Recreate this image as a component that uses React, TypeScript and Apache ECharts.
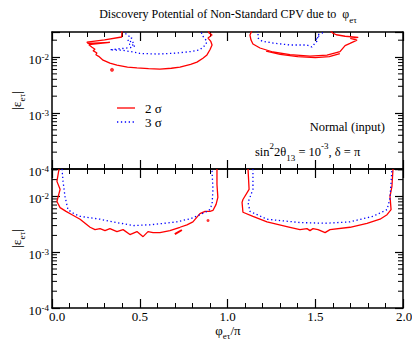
import React, { useEffect, useRef } from "react";
import * as echarts from "echarts";

const FONT = "'Liberation Serif', 'DejaVu Serif', 'Times New Roman', serif";
const RED = "#ff0000";
const BLUE = "#0000ff";

// axis ranges
const X_RANGE = [0, 2];
const X_LABELS = ["0.0", "0.5", "1.0", "1.5", "2.0"];
const Y_MIN = 1e-4;
const Y_MAX_TOP = 0.028;
const Y_MAX_BOTTOM = 0.031;
const MINOR_MULT = [2, 3, 4, 5, 6, 7, 8, 9];
const DECADES = [1e-4, 1e-3, 1e-2];

// ---- Upper panel contours [phi/pi, |eps_etau|] ----
const UPPER_LEFT_2S = [
  [0.399, 0.03], [0.397, 0.0228], [0.3, 0.0203], [0.199, 0.0185], [0.205, 0.0175],
  [0.33, 0.0183], [0.21, 0.0166], [0.228, 0.015], [0.245, 0.0138], [0.234, 0.013],
  [0.256, 0.0118], [0.25, 0.011], [0.266, 0.0103], [0.291, 0.0088], [0.33, 0.0078],
  [0.37, 0.0072], [0.43, 0.0066], [0.484, 0.0064], [0.55, 0.0062], [0.615, 0.0061],
  [0.68, 0.0063], [0.729, 0.0066], [0.79, 0.0074], [0.826, 0.0081], [0.86, 0.0095],
  [0.883, 0.0109], [0.9, 0.0135], [0.912, 0.0164], [0.905, 0.019], [0.889, 0.0218],
  [0.912, 0.0247], [0.895, 0.027], [0.889, 0.03],
];
const UPPER_LEFT_3S = [
  [0.405, 0.03], [0.425, 0.025], [0.455, 0.022], [0.43, 0.0195], [0.465, 0.0185],
  [0.44, 0.0168], [0.475, 0.016], [0.45, 0.0148], [0.4, 0.0142], [0.33, 0.0135],
  [0.4, 0.0132], [0.47, 0.0122], [0.5, 0.0116], [0.6, 0.0113], [0.7, 0.0117],
  [0.8, 0.0126], [0.843, 0.0135], [0.875, 0.0165], [0.883, 0.019], [0.86, 0.0235],
  [0.845, 0.03],
];
const UPPER_RIGHT_2S = [
  [1.14, 0.03], [1.128, 0.0247], [1.134, 0.0201], [1.145, 0.0171], [1.185, 0.0145],
  [1.259, 0.0123], [1.356, 0.011], [1.47, 0.0104], [1.567, 0.0108], [1.641, 0.0125],
  [1.67, 0.016], [1.698, 0.0175], [1.738, 0.02], [1.7, 0.0215], [1.745, 0.0225],
  [1.67, 0.0235], [1.62, 0.025], [1.6, 0.0268], [1.584, 0.03],
];
const UPPER_RIGHT_2S_B = [
  [1.22, 0.0128], [1.3, 0.0112], [1.4, 0.0102], [1.5, 0.0098], [1.58, 0.0102], [1.64, 0.0115],
];
const UPPER_RIGHT_3S = [
  [1.168, 0.03], [1.174, 0.0268], [1.174, 0.0218], [1.197, 0.0192], [1.259, 0.0178],
  [1.356, 0.0164], [1.453, 0.0164], [1.481, 0.0151], [1.499, 0.0178], [1.516, 0.0201],
  [1.5, 0.0215], [1.527, 0.0228], [1.51, 0.0247], [1.54, 0.0268], [1.556, 0.03],
];
const UPPER_DOTS_2S = [[0.342, 0.0059]];

// ---- Lower panel contours ----
const LOWER_LEFT_2S = [
  [0.04, 0.031], [0.028, 0.0186], [0.046, 0.0134], [0.028, 0.0081], [0.046, 0.0063],
  [0.08, 0.0054], [0.114, 0.0047], [0.16, 0.0039], [0.217, 0.0028], [0.245, 0.00254],
  [0.274, 0.00265], [0.302, 0.00244], [0.33, 0.00265], [0.37, 0.00234], [0.405, 0.00254],
  [0.444, 0.00207], [0.484, 0.00234], [0.519, 0.0019], [0.547, 0.00234], [0.576, 0.00224],
  [0.615, 0.00224], [0.672, 0.00244], [0.729, 0.0028], [0.769, 0.0031], [0.803, 0.0035],
  [0.843, 0.0049], [0.872, 0.0054], [0.9, 0.0054], [0.917, 0.0056], [0.935, 0.0072],
  [0.945, 0.0096], [0.94, 0.0164], [0.94, 0.031],
];
const LOWER_LEFT_3S = [
  [0.057, 0.031], [0.063, 0.0186], [0.074, 0.01], [0.091, 0.0058], [0.125, 0.0049],
  [0.16, 0.0044], [0.274, 0.0039], [0.37, 0.0034], [0.462, 0.003], [0.558, 0.0031],
  [0.64, 0.0033], [0.712, 0.0035], [0.79, 0.004], [0.843, 0.0047], [0.895, 0.0056],
  [0.912, 0.0072], [0.917, 0.0134], [0.912, 0.0282], [0.906, 0.031],
];
const LOWER_STROKE_2S = [[0.7, 0.0021], [0.74, 0.0025]];
const LOWER_DOTS_2S = [[0.889, 0.0037]];
const LOWER_RIGHT_2S = [
  [1.117, 0.031], [1.123, 0.0134], [1.088, 0.0088], [1.083, 0.0078], [1.088, 0.0052],
  [1.145, 0.0044], [1.225, 0.0035], [1.356, 0.0028], [1.413, 0.00254], [1.453, 0.00265],
  [1.47, 0.00244], [1.487, 0.00265], [1.516, 0.00254], [1.556, 0.00224], [1.584, 0.00254],
  [1.698, 0.0028], [1.795, 0.0033], [1.869, 0.0039], [1.909, 0.0047], [1.932, 0.0058],
  [1.926, 0.01], [1.937, 0.0151], [1.943, 0.031],
];
const LOWER_RIGHT_3S = [
  [1.145, 0.031], [1.145, 0.0134], [1.117, 0.0078], [1.128, 0.0054], [1.225, 0.0039],
  [1.413, 0.0034], [1.556, 0.0033], [1.698, 0.0035], [1.829, 0.0044], [1.909, 0.0058],
  [1.925, 0.009], [1.932, 0.0177], [1.937, 0.031],
];

const LEGEND_LABELS = ["2 σ", "3 σ"];

const DOT_DASH = [1.3, 2.6];

function contour(data: number[][], grid: number, color: string, dotted: boolean) {
  return {
    type: "line",
    xAxisIndex: grid * 2,
    yAxisIndex: grid * 2,
    data,
    symbol: "none",
    showSymbol: false,
    silent: true,
    clip: true,
    lineStyle: { color, width: 1.3, type: dotted ? DOT_DASH : "solid" },
  };
}

function dots(data: number[][], grid: number, size: number) {
  return {
    type: "scatter",
    xAxisIndex: grid * 2,
    yAxisIndex: grid * 2,
    data,
    symbol: "circle",
    symbolSize: size,
    silent: true,
    itemStyle: { color: RED },
  };
}

function minorTicks(grid: number, max: number) {
  const vals: number[][] = [];
  DECADES.forEach((d) => MINOR_MULT.forEach((m) => {
    const v = d * m;
    if (v < max) vals.push([1, v]);
  }));
  return {
    type: "custom",
    xAxisIndex: grid * 2,
    yAxisIndex: grid * 2,
    data: vals,
    silent: true,
    renderItem: (_p: any, api: any) => {
      const v = api.value(1);
      const a = api.coord([X_RANGE[0], v]);
      const b = api.coord([X_RANGE[1], v]);
      return {
        type: "group",
        children: [
          { type: "line", shape: { x1: a[0], y1: a[1], x2: a[0] + 5, y2: a[1] }, style: { stroke: "#000", lineWidth: 1 } },
          { type: "line", shape: { x1: b[0] - 5, y1: b[1], x2: b[0], y2: b[1] }, style: { stroke: "#000", lineWidth: 1 } },
        ],
      };
    },
  };
}

const AXIS_LINE = { show: true, onZero: false, lineStyle: { color: "#000", width: 1.5 } };

function xAxis(gridIndex: number, position: string, showLabels: boolean) {
  return {
    type: "value",
    gridIndex,
    position,
    min: X_RANGE[0],
    max: X_RANGE[1],
    interval: 0.5,
    axisLine: AXIS_LINE,
    axisTick: { show: true, inside: true, length: 9, lineStyle: { color: "#000", width: 1.2 } },
    minorTick: { show: true, splitNumber: 5, length: 5, lineStyle: { color: "#000", width: 1 } },
    splitLine: { show: false },
    minorSplitLine: { show: false },
    axisLabel: {
      show: showLabels,
      margin: 2,
      showMinLabel: true,
      showMaxLabel: true,
      formatter: (v: number) => {
        const idx = Math.round(v / 0.5);
        const t = X_LABELS[idx] ?? "";
        if (idx === 0) return `{e|${t}}`;
        if (idx === X_LABELS.length - 1) return `{f|${t}}`;
        return `{n|${t}}`;
      },
      rich: {
        n: { fontFamily: FONT, fontSize: 13, color: "#000" },
        e: { fontFamily: FONT, fontSize: 13, color: "#000", padding: [0, 0, 0, 10] },
        f: { fontFamily: FONT, fontSize: 13, color: "#000", padding: [0, 0, 0, 2] },
      },
    },
  };
}

function yAxis(gridIndex: number, position: string, max: number, showLabels: boolean) {
  return {
    type: "log",
    logBase: 10,
    gridIndex,
    position,
    min: Y_MIN,
    max,
    axisLine: AXIS_LINE,
    axisTick: { show: true, inside: true, length: 8, lineStyle: { color: "#000", width: 1.2 } },
    minorTick: { show: false },
    splitLine: { show: false },
    axisLabel: {
      show: showLabels,
      margin: 3,
      showMinLabel: true,
      showMaxLabel: true,
      padding: [4, 0, 0, 0],
      formatter: (v: number) => {
        const l = Math.log10(v);
        const r = Math.round(l);
        if (Math.abs(l - r) > 1e-6) return "";
        return `{b|10}{s|${r}}`;
      },
      rich: {
        b: { fontFamily: FONT, fontSize: 13, color: "#000", lineHeight: 13, verticalAlign: "bottom" },
        s: { fontFamily: FONT, fontSize: 9, color: "#000", lineHeight: 9, verticalAlign: "top" },
      },
    },
  };
}

const RICH_TXT = (size: number) => ({
  a: { fontFamily: FONT, fontSize: size, fill: "#000", lineHeight: 21, verticalAlign: "middle" },
  p: { fontFamily: FONT, fontSize: 9, fill: "#000", lineHeight: 9, verticalAlign: "top" },
  s: { fontFamily: FONT, fontSize: 9, fill: "#000", lineHeight: 9, verticalAlign: "bottom" },
});

const option: any = {
  animation: false,
  backgroundColor: "#ffffff",
  grid: [
    { left: 52, top: 32, width: 351, height: 137, containLabel: false, outerBoundsMode: "none" },
    { left: 52, top: 169, width: 351, height: 139, containLabel: false, outerBoundsMode: "none" },
  ],
  xAxis: [
    xAxis(0, "bottom", false),
    xAxis(0, "top", false),
    xAxis(1, "bottom", true),
    xAxis(1, "top", false),
  ],
  yAxis: [
    yAxis(0, "left", Y_MAX_TOP, true),
    yAxis(0, "right", Y_MAX_TOP, false),
    yAxis(1, "left", Y_MAX_BOTTOM, true),
    yAxis(1, "right", Y_MAX_BOTTOM, false),
  ],
  series: [
    minorTicks(0, Y_MAX_TOP),
    minorTicks(1, Y_MAX_BOTTOM),
    contour(UPPER_LEFT_2S, 0, RED, false),
    contour(UPPER_RIGHT_2S, 0, RED, false),
    contour(UPPER_RIGHT_2S_B, 0, RED, false),
    contour(UPPER_LEFT_3S, 0, BLUE, true),
    contour(UPPER_RIGHT_3S, 0, BLUE, true),
    dots(UPPER_DOTS_2S, 0, 4),
    contour(LOWER_LEFT_2S, 1, RED, false),
    contour(LOWER_RIGHT_2S, 1, RED, false),
    { ...contour(LOWER_STROKE_2S, 1, RED, false), lineStyle: { color: RED, width: 2 } },
    contour(LOWER_LEFT_3S, 1, BLUE, true),
    contour(LOWER_RIGHT_3S, 1, BLUE, true),
    dots(LOWER_DOTS_2S, 1, 3),
  ],
  graphic: [
    {
      type: "text", x: 228, y: 14, silent: true,
      style: {
        text: "{a|Discovery Potential of Non-Standard CPV due to  φ}{s|eτ}",
        rich: RICH_TXT(12), align: "center", verticalAlign: "middle",
      },
    },
    {
      type: "text", x: 16, y: 100.5, rotation: Math.PI / 2, silent: true,
      style: { text: "{a||ε}{s|eτ}{a||}", rich: RICH_TXT(13.5), align: "center", verticalAlign: "middle" },
    },
    {
      type: "text", x: 16, y: 238.5, rotation: Math.PI / 2, silent: true,
      style: { text: "{a||ε}{s|eτ}{a||}", rich: RICH_TXT(13.5), align: "center", verticalAlign: "middle" },
    },
    {
      type: "text", x: 228, y: 330, silent: true,
      style: { text: "{a|φ}{s|eτ}{a|/π}", rich: RICH_TXT(13), align: "center", verticalAlign: "middle" },
    },
    { type: "line", silent: true, shape: { x1: 117, y1: 108, x2: 135, y2: 108 }, style: { stroke: RED, lineWidth: 1.3 } },
    { type: "line", silent: true, shape: { x1: 117, y1: 122, x2: 135, y2: 122 }, style: { stroke: BLUE, lineWidth: 1.3, lineDash: DOT_DASH } },
    {
      type: "text", x: 145, y: 108, silent: true,
      style: { text: LEGEND_LABELS[0], font: `13px ${FONT}`, fill: "#000", align: "left", verticalAlign: "middle" },
    },
    {
      type: "text", x: 145, y: 122, silent: true,
      style: { text: LEGEND_LABELS[1], font: `13px ${FONT}`, fill: "#000", align: "left", verticalAlign: "middle" },
    },
    {
      type: "text", x: 385, y: 127, silent: true,
      style: { text: "Normal (input)", font: `12.5px ${FONT}`, fill: "#000", align: "right", verticalAlign: "middle" },
    },
    {
      type: "text", x: 255, y: 152, silent: true,
      style: {
        text: "{a|sin}{p|2}{a|2θ}{s|13}{a| = 10}{p|-3}{a|, δ = π}",
        rich: RICH_TXT(12.5), align: "left", verticalAlign: "middle",
      },
    },
  ],
};

export default function App() {
  const ref = useRef<HTMLDivElement>(null);
  useEffect(() => {
    if (!ref.current) return;
    const chart = echarts.init(ref.current, null, { renderer: "svg" });
    chart.setOption(option);
    return () => chart.dispose();
  }, []);
  return (
    <div
      ref={ref}
      style={{ position: "absolute", left: 0, top: 0, width: 412, height: 342, background: "#fff" }}
    />
  );
}
